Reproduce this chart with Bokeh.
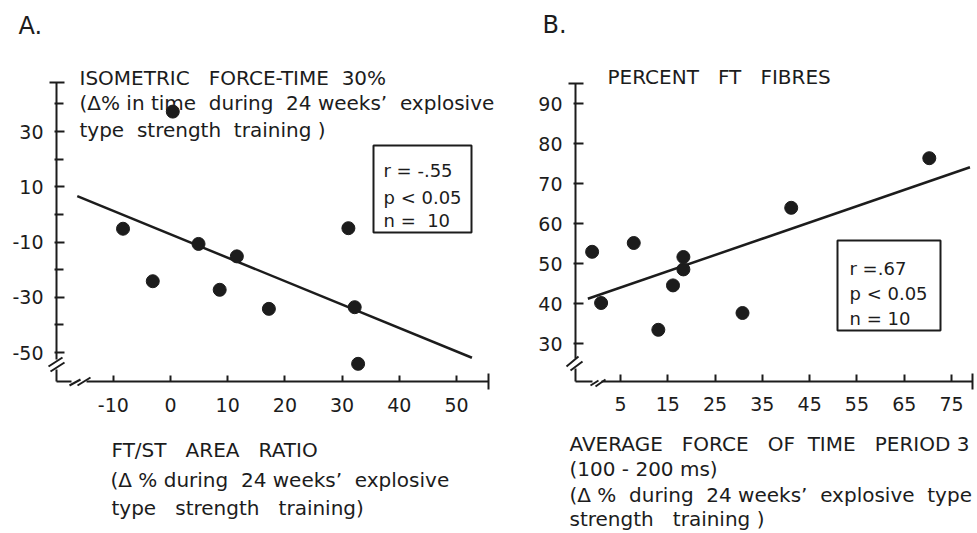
import re
from bokeh.plotting import figure
from bokeh.models import Label, Arrow, FixedTicker, BoxAnnotation, Range1d
from bokeh.layouts import row
from bokeh.embed import file_html
from bokeh.resources import INLINE

# ---------------- data: panel A ----------------
a_ft_st_ratio = [-8.3, -3.1, 0.4, 4.9, 11.6, 8.6, 17.2, 31.1, 32.2, 32.8]
a_force_time = [-5.2, -24.2, 37.2, -10.7, -15.2, -27.3, -34.2, -5.0, -33.6, -54.1]
a_fit_x = [-16.3, 52.7]
a_fit_y = [6.6, -51.9]
a_xticks = [-10, 0, 10, 20, 30, 40, 50]
a_xlabels = ["-10", "0", "10", "20", "30", "40", "50"]
a_yticks = [-50, -30, -10, 10, 30]
a_ylabels = ["-50", "-30", "-10", "10", "30"]
a_yminor = [-40, -20, 0, 20, 40]
a_stats = ["r = -.55", "p < 0.05", "n =  10"]

# ---------------- data: panel B ----------------
b_avg_force = [-1.0, 0.9, 7.8, 13.0, 16.1, 18.3, 18.3, 30.8, 41.1, 70.3]
b_pct_ft = [53.0, 40.2, 55.2, 33.5, 44.6, 51.7, 48.6, 37.7, 64.0, 76.4]
b_fit_x = [-1.9, 78.9]
b_fit_y = [41.25, 74.15]
b_xticks = [5, 15, 25, 35, 45, 55, 65, 75]
b_yticks = [30, 40, 50, 60, 70, 80, 90]
b_stats = ["r =.67", "p < 0.05", "n = 10"]

INK = "#1c1c1c"
FONT = "DejaVu Sans"
H = 533


# reference pixel -> data helpers (used only to place decorations and text)
def ax(px):
    return (px - 170) / 5.72


def ay(py):
    return 30 - (py - 131) / 2.7625


def bx(px):
    return 5 + (px - 620) / 4.729


def by(py):
    return 30 - (py - 343.3) / 4.0


def keep_spaces(s):
    return re.sub(r" {2,}", lambda m: " " + "\u00a0" * (len(m.group()) - 1), s)


def base_fig(width, x_range, y_range):
    p = figure(width=width, height=H, x_range=x_range, y_range=y_range,
               output_backend="svg", toolbar_location=None, min_border=0)
    p.title.visible = False
    p.grid.visible = False
    p.outline_line_color = None
    p.background_fill_color = "white"
    p.border_fill_color = "white"
    for axis in (p.xaxis, p.yaxis):
        axis.axis_line_color = INK
        axis.axis_line_width = 2
        axis.major_tick_line_color = INK
        axis.major_tick_line_width = 2
        axis.minor_tick_line_color = INK
        axis.minor_tick_line_width = 2
        axis.major_label_text_font = FONT
        axis.major_label_text_font_size = "19px"
        axis.major_label_text_color = INK
    return p


def label(p, x, y, text, size="20px"):
    p.add_layout(Label(x=x, y=y, text=keep_spaces(text), text_font=FONT, text_font_size=size,
                       text_color=INK, text_baseline="alphabetic", text_align="left"))


def seg(p, x0, y0, x1, y1, color=INK, w=2):
    p.add_layout(Arrow(end=None, start=None, x_start=x0, y_start=y0, x_end=x1, y_end=y1,
                       line_color=color, line_width=w))


# ================= panel A =================
pa = base_fig(498, Range1d(ax(0), ax(498)), Range1d(ay(H), ay(0)))
pa.xaxis.fixed_location = ay(381)
pa.xaxis.bounds = (ax(56), ax(488))
pa.xaxis.ticker = FixedTicker(ticks=a_xticks)
pa.xaxis.major_label_overrides = dict(zip(a_xticks, a_xlabels))
pa.xaxis.major_tick_in = 6
pa.xaxis.major_tick_out = 0
pa.xaxis.major_label_standoff = 16
pa.yaxis.fixed_location = ax(56)
pa.yaxis.bounds = (ay(381), ay(82))
pa.yaxis.ticker = FixedTicker(ticks=a_yticks, minor_ticks=a_yminor)
pa.yaxis.major_label_overrides = dict(zip(a_yticks, a_ylabels))
pa.yaxis.major_tick_in = 8
pa.yaxis.major_tick_out = 2
pa.yaxis.minor_tick_in = 7
pa.yaxis.minor_tick_out = 2
pa.yaxis.major_label_standoff = 11

pa.line(a_fit_x, a_fit_y, line_width=2.5, line_color=INK)
pa.scatter(a_ft_st_ratio, a_force_time, size=13, fill_color=INK, line_color=INK)

pa.add_layout(BoxAnnotation(left=ax(373), right=ax(471), top=ay(145), bottom=ay(232),
                            fill_color=None, fill_alpha=0, line_color=INK, line_alpha=1,
                            line_width=2))
for txt, yy in zip(a_stats, [170, 197, 220]):
    label(pa, ax(383), ay(yy), txt, "18px")

# end caps
seg(pa, ax(49), ay(82), ax(64), ay(82))
seg(pa, ax(488), ay(373), ax(488), ay(389))
# axis breaks
seg(pa, ax(56), ay(359), ax(56), ay(369), color="white", w=6)
seg(pa, ax(48), ay(366), ax(62), ay(357))
seg(pa, ax(50), ay(371), ax(64), ay(362))
seg(pa, ax(71), ay(381), ax(86), ay(381), color="white", w=6)
seg(pa, ax(69), ay(385), ax(80), ay(379))
seg(pa, ax(77), ay(385), ax(90), ay(377))

label(pa, ax(18), ay(25), "A.", "24px")
label(pa, ax(79), ay(77), "ISOMETRIC   FORCE-TIME  30%")
label(pa, ax(79), ay(102), "(Δ% in time  during  24 weeks’  explosive")
label(pa, ax(79), ay(129), "type  strength  training )")
label(pa, ax(111), ay(449), "FT/ST   AREA   RATIO")
label(pa, ax(110), ay(479), "(Δ % during  24 weeks’  explosive")
label(pa, ax(111), ay(507), "type   strength   training)")

# ================= panel B =================
pb = base_fig(479, Range1d(bx(498), bx(977)), Range1d(by(H), by(0)))
pb.xaxis.fixed_location = by(381)
pb.xaxis.bounds = (bx(575), bx(972))
pb.xaxis.ticker = FixedTicker(ticks=b_xticks)
pb.xaxis.major_tick_in = 7
pb.xaxis.major_tick_out = 0
pb.xaxis.major_label_standoff = 15
pb.yaxis.fixed_location = bx(575)
pb.yaxis.bounds = (by(381), by(83))
pb.yaxis.ticker = FixedTicker(ticks=b_yticks)
pb.yaxis.major_tick_in = 8
pb.yaxis.major_tick_out = 2
pb.yaxis.major_label_standoff = 11

pb.line(b_fit_x, b_fit_y, line_width=2.5, line_color=INK)
pb.scatter(b_avg_force, b_pct_ft, size=13, fill_color=INK, line_color=INK)

pb.add_layout(BoxAnnotation(left=bx(837), right=bx(940), top=by(240), bottom=by(330),
                            fill_color=None, fill_alpha=0, line_color=INK, line_alpha=1,
                            line_width=2))
for txt, yy in zip(b_stats, [268, 293, 318]):
    label(pb, bx(849), by(yy), txt, "18px")

seg(pb, bx(568), by(83), bx(583), by(83))
seg(pb, bx(972), by(373), bx(972), by(389))
seg(pb, bx(575), by(358), bx(575), by(368), color="white", w=6)
seg(pb, bx(566), by(366), bx(578), by(356))
seg(pb, bx(570), by(370), bx(582), by(361))
seg(pb, bx(592), by(381), bx(601), by(381), color="white", w=6)
seg(pb, bx(590), by(385), bx(598), by(380))
seg(pb, bx(595), by(386), bx(605), by(379))

label(pb, bx(542), by(24), "B.", "24px")
label(pb, bx(607), by(76), "PERCENT   FT   FIBRES")
label(pb, bx(569), by(443), "AVERAGE   FORCE   OF  TIME   PERIOD 3")
label(pb, bx(569), by(468), "(100 - 200 ms)")
label(pb, bx(569), by(494), "(Δ %  during  24 weeks’  explosive  type")
label(pb, bx(569), by(518), "strength   training )")

layout = row(pa, pb)
open("out.html", "w").write(file_html(layout, INLINE))
